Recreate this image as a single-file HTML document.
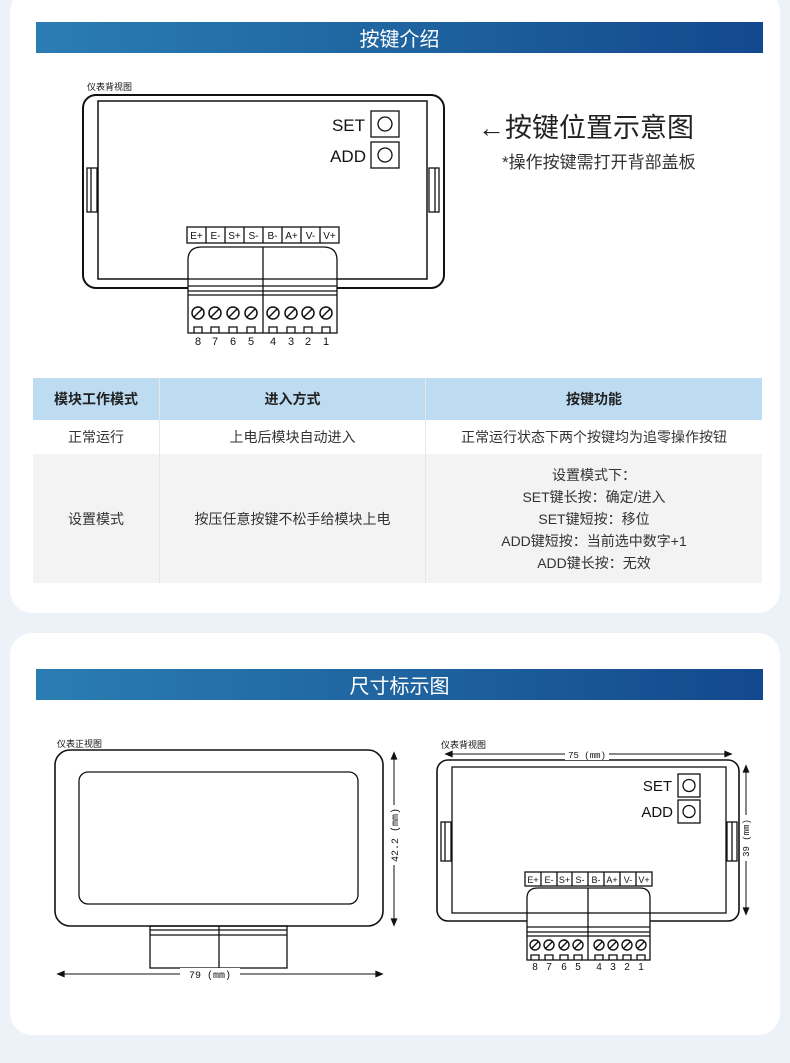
<!DOCTYPE html>
<html><head><meta charset="utf-8"><style>
html,body{margin:0;padding:0;background:#edf2f9;}
body{width:790px;height:1063px;position:relative;overflow:hidden;font-family:"Liberation Sans","Noto Sans CJK SC",sans-serif;}
.card{position:absolute;left:10px;width:770px;background:#fff;border-radius:22px;}
.bar{position:absolute;left:36px;width:727px;height:31px;background:linear-gradient(90deg,#2a7db2,#1f64a0 50%,#13488e);color:#fff;font-size:20px;text-align:center;line-height:31px;font-family:"Noto Sans CJK SC",sans-serif;}
table{position:absolute;left:33px;top:378px;width:729px;border-collapse:collapse;font-family:"Liberation Sans","Noto Sans CJK SC",sans-serif;font-size:14px;color:#333;text-align:center;}
td{padding:0;border-left:1px solid #e6e6e6;}
td:first-child{border-left:none;}
</style></head><body>
<div class="card" style="top:-10px;height:623px;"></div>
<div class="card" style="top:633px;height:402px;"></div>
<div class="bar" style="top:22px;">按键介绍</div>
<div class="bar" style="top:669px;">尺寸标示图</div>

<table>
<tr style="height:42px;background:#bddcf2;font-weight:bold;color:#222;"><td style="width:126px">模块工作模式</td><td style="width:265px">进入方式</td><td>按键功能</td></tr>
<tr style="height:34px;background:#fff;"><td>正常运行</td><td>上电后模块自动进入</td><td>正常运行状态下两个按键均为追零操作按钮</td></tr>
<tr style="height:129px;background:#f4f3f4;"><td>设置模式</td><td>按压任意按键不松手给模块上电</td><td style="line-height:22px">设置模式下：<br>SET键长按：确定/进入<br>SET键短按：移位<br>ADD键短按：当前选中数字+1<br>ADD键长按：无效</td></tr>
</table>

<svg width="790" height="1063" style="position:absolute;left:0;top:0" font-family="Liberation Sans, Noto Sans CJK SC, sans-serif">
<g fill="none" stroke="#111" stroke-width="1.3">
<rect x="83" y="95" width="361" height="193" rx="13" fill="#fff" stroke-width="2"/>
<rect x="98" y="101" width="329" height="178" stroke-width="1.5"/>
<rect x="87" y="168" width="10" height="44"/><line x1="91" y1="168" x2="91" y2="212"/>
<rect x="429" y="168" width="10" height="44"/><line x1="435" y1="168" x2="435" y2="212"/>
<rect x="371" y="111" width="28" height="26"/><circle cx="385" cy="124" r="7"/>
<rect x="371" y="142" width="28" height="26"/><circle cx="385" cy="155" r="7"/>
<rect x="187" y="227" width="152" height="16"/>
<path d="M206 227V243M225 227V243M244 227V243M263 227V243M282 227V243M301 227V243M320 227V243"/>
<path d="M188 279V260Q188 247 202 247H323Q337 247 337 260V279" fill="#fff"/>
<rect x="188" y="279" width="149" height="54" fill="#fff"/>
<line x1="263" y1="247" x2="263" y2="333"/>
<path d="M188 286H337M188 291H337M188 295H337"/>
<g stroke-width="1.5">
<circle cx="198" cy="313" r="6"/><circle cx="215" cy="313" r="6"/><circle cx="233" cy="313" r="6"/><circle cx="251" cy="313" r="6"/>
<circle cx="273" cy="313" r="6"/><circle cx="291" cy="313" r="6"/><circle cx="308" cy="313" r="6"/><circle cx="326" cy="313" r="6"/>
<path d="M194 317L202 309M211 317L219 309M229 317L237 309M247 317L255 309M269 317L277 309M287 317L295 309M304 317L312 309M322 317L330 309"/>
</g>
<path d="M194 333V327H202V333M211 333V327H219V333M229 333V327H237V333M247 333V327H255V333M269 333V327H277V333M287 333V327H295V333M304 333V327H312V333M322 333V327H330V333"/>

<rect x="55" y="750" width="328" height="176" rx="15" fill="#fff" stroke-width="1.6"/>
<rect x="79" y="772" width="279" height="132" rx="9"/>
<rect x="150" y="926" width="137" height="42"/>
<path d="M150 930H287M150 935H287M219 926V968"/>
<path d="M58 974H382" stroke-width="1"/>
<path d="M58 974l6 -2.5v5z M382 974l-6 -2.5v5z" fill="#111"/>
<path d="M394 753V925" stroke-width="1"/>
<path d="M394 753l-2.5 6h5z M394 925l-2.5 -6h5z" fill="#111"/>

<rect x="437" y="760" width="302" height="161" rx="11" fill="#fff" stroke-width="1.6"/>
<rect x="452" y="767" width="274" height="146"/>
<rect x="441" y="822" width="10" height="39"/><line x1="445" y1="822" x2="445" y2="861"/>
<rect x="727" y="822" width="10" height="39"/><line x1="732" y1="822" x2="732" y2="861"/>
<rect x="678" y="774" width="22" height="23"/><circle cx="689" cy="785.5" r="6"/>
<rect x="678" y="800" width="22" height="23"/><circle cx="689" cy="811.5" r="6"/>
<rect x="525" y="872" width="127" height="14"/>
<path d="M541 872V886M557 872V886M572 872V886M588 872V886M604 872V886M620 872V886M636 872V886"/>
<path d="M527 913V898Q527 888 538 888H640Q650 888 650 898V913" fill="#fff"/>
<rect x="527" y="913" width="123" height="47" fill="#fff"/>
<line x1="588" y1="888" x2="588" y2="960"/>
<path d="M527 927H650M527 932H650M527 936H650"/>
<g stroke-width="1.4">
<circle cx="535" cy="945" r="5"/><circle cx="549" cy="945" r="5"/><circle cx="564" cy="945" r="5"/><circle cx="578" cy="945" r="5"/>
<circle cx="599" cy="945" r="5"/><circle cx="613" cy="945" r="5"/><circle cx="627" cy="945" r="5"/><circle cx="641" cy="945" r="5"/>
<path d="M531.5 948.5l7-7M545.5 948.5l7-7M560.5 948.5l7-7M574.5 948.5l7-7M595.5 948.5l7-7M609.5 948.5l7-7M623.5 948.5l7-7M637.5 948.5l7-7"/>
</g>
<path d="M531 960V955H539V960M545 960V955H553V960M560 960V955H568V960M574 960V955H582V960M595 960V955H603V960M609 960V955H617V960M623 960V955H631V960M637 960V955H645V960"/>
<path d="M446 754H731" stroke-width="1"/>
<path d="M446 754l6 -2.5v5z M731 754l-6 -2.5v5z" fill="#111"/>
<path d="M746 766V914" stroke-width="1"/>
<path d="M746 766l-2.5 6h5z M746 914l-2.5 -6h5z" fill="#111"/>
</g>

<g fill="#111">
<text x="87" y="90" font-size="9">仪表背视图</text>
<text x="365" y="131" font-size="17" text-anchor="end">SET</text>
<text x="366" y="162" font-size="17" text-anchor="end">ADD</text>
<g font-size="10" text-anchor="middle">
<text x="196.5" y="239">E+</text><text x="215.5" y="239">E-</text><text x="234.5" y="239">S+</text><text x="253.5" y="239">S-</text>
<text x="272.5" y="239">B-</text><text x="291.5" y="239">A+</text><text x="310.5" y="239">V-</text><text x="329.5" y="239">V+</text>
</g>
<g font-size="11" text-anchor="middle">
<text x="198" y="345">8</text><text x="215" y="345">7</text><text x="233" y="345">6</text><text x="251" y="345">5</text>
<text x="273" y="345">4</text><text x="291" y="345">3</text><text x="308" y="345">2</text><text x="326" y="345">1</text>
</g>
<text x="478" y="137" font-size="27" fill="#222">←按键位置示意图</text>
<text x="502" y="168" font-size="17" fill="#333">*操作按键需打开背部盖板</text>

<text x="57" y="747" font-size="9">仪表正视图</text>
<rect x="180" y="968" width="60" height="12" fill="#fff"/>
<text x="210" y="978" font-size="10" text-anchor="middle" font-family="Liberation Mono, monospace">79 (mm)</text>
<rect x="388" y="805" width="12" height="60" fill="#fff"/>
<text transform="translate(398,835) rotate(-90)" font-size="10" text-anchor="middle" font-family="Liberation Mono, monospace">42.2 (mm)</text>

<text x="441" y="748" font-size="9">仪表背视图</text>
<rect x="565" y="748" width="44" height="12" fill="#fff"/>
<text x="587" y="758" font-size="9" text-anchor="middle" font-family="Liberation Mono, monospace">75 (mm)</text>
<rect x="740" y="815" width="12" height="46" fill="#fff"/>
<text transform="translate(749,838) rotate(-90)" font-size="9" text-anchor="middle" font-family="Liberation Mono, monospace">39 (mm)</text>
<text x="672" y="791" font-size="15" text-anchor="end">SET</text>
<text x="673" y="817" font-size="15" text-anchor="end">ADD</text>
<g font-size="9" text-anchor="middle">
<text x="533" y="883">E+</text><text x="549" y="883">E-</text><text x="564.5" y="883">S+</text><text x="580" y="883">S-</text>
<text x="596" y="883">B-</text><text x="612" y="883">A+</text><text x="628" y="883">V-</text><text x="644" y="883">V+</text>
</g>
<g font-size="10" text-anchor="middle">
<text x="535" y="970">8</text><text x="549" y="970">7</text><text x="564" y="970">6</text><text x="578" y="970">5</text>
<text x="599" y="970">4</text><text x="613" y="970">3</text><text x="627" y="970">2</text><text x="641" y="970">1</text>
</g>
</g>
</svg>
</body></html>
